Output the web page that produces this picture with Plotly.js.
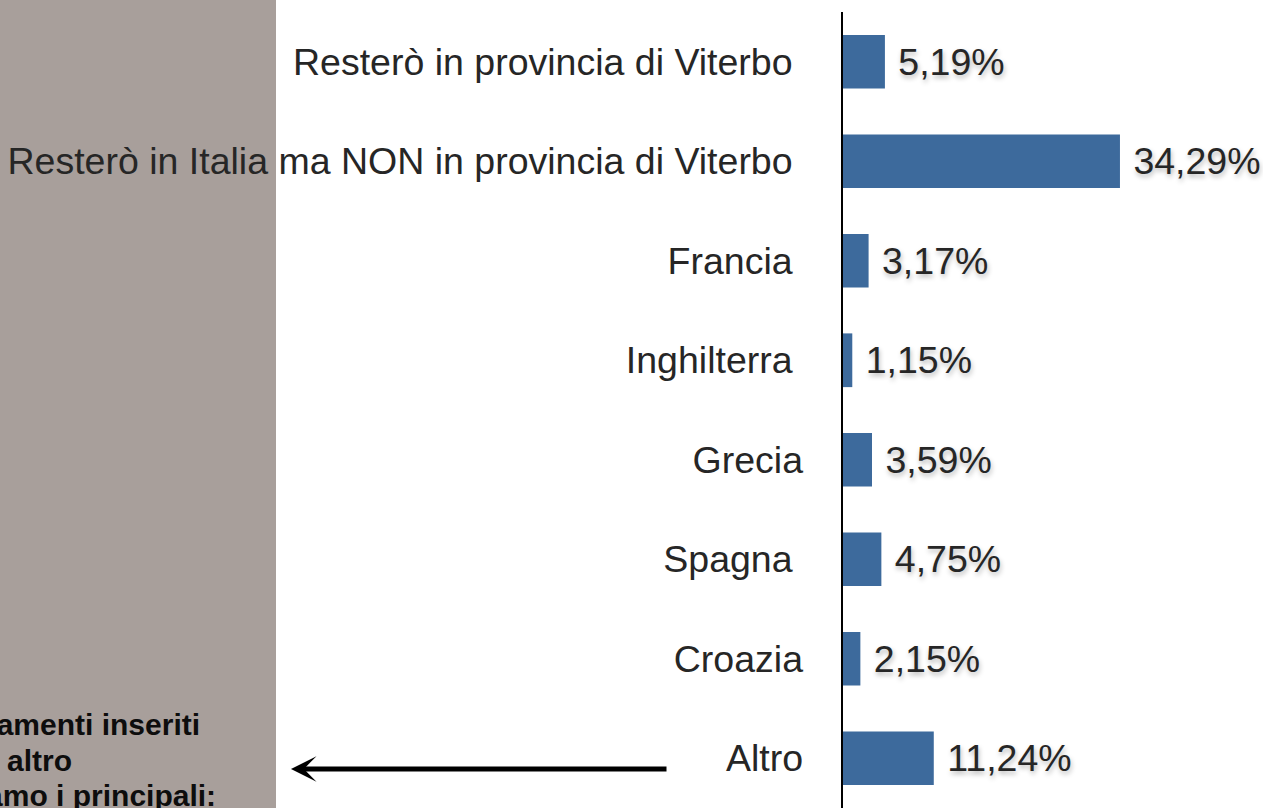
<!DOCTYPE html>
<html>
<head>
<meta charset="utf-8">
<script src="https://cdn.plot.ly/plotly-3.0.1.min.js"></script>
<style>html,body{margin:0;padding:0;background:#fff;}#chart{width:1263px;height:808px;}</style>
</head>
<body>
<div id="chart"></div>
<script>
// Categories (trailing non-breaking spaces reproduce the original label spacing)
const categories = [
  "Resterò in provincia di Viterbo\u00a0",
  "Resterò in Italia ma NON in provincia di Viterbo\u00a0",
  "Francia\u00a0",
  "Inghilterra\u00a0",
  "Grecia",
  "Spagna\u00a0",
  "Croazia",
  "Altro"
];
const percentages = [5.19, 34.29, 3.17, 1.15, 3.59, 4.75, 2.15, 11.24];
const noteLines = ["Gli orientamenti inseriti", "in altro", "vediamo i principali:"];

const W = 1263, H = 808, L = 843, T = 12, B = 0, R = 0;
const pw = W - L - R, ph = H - T - B;
const px = x => (x - L) / pw;
const py = y => 1 - (y - T) / ph;

const trace = {
  type: "bar",
  orientation: "h",
  y: categories,
  x: percentages,
  marker: {color: "#3d6a9c"},
  texttemplate: "\u00a0%{x:.2f}%",
  textposition: "outside",
  cliponaxis: false,
  textfont: {family: "Liberation Sans, Arial, sans-serif", size: 37.5, color: "#262626",
             shadow: "1px 3px 5px rgba(0,0,0,0.28)"},
  hoverinfo: "skip"
};

const noteFont = {family: "Liberation Sans, Arial, sans-serif", size: 30, color: "#0d0d0d", weight: "bold"};
const annotations = [
  {xref: "paper", yref: "paper", x: px(202), y: py(724), xanchor: "right", yanchor: "middle",
   text: "<b>" + noteLines[0] + "</b>", showarrow: false, font: noteFont},
  {xref: "paper", yref: "paper", x: px(74), y: py(760), xanchor: "right", yanchor: "middle",
   text: "<b>" + noteLines[1] + "</b>", showarrow: false, font: noteFont},
  {xref: "paper", yref: "paper", x: px(218), y: py(795), xanchor: "right", yanchor: "middle",
   text: "<b>" + noteLines[2] + "</b>", showarrow: false, font: noteFont},
  {xref: "paper", yref: "paper", x: px(291), y: py(769), axref: "pixel", ayref: "pixel",
   ax: 377, ay: 0, text: "", showarrow: true, arrowhead: 3, arrowsize: 0.85,
   arrowwidth: 5, arrowcolor: "#000", standoff: 0, startstandoff: 0}
];

const layout = {
  width: W, height: H,
  margin: {l: L, r: R, t: T, b: B, pad: 0},
  paper_bgcolor: "#ffffff",
  plot_bgcolor: "rgba(0,0,0,0)",
  separators: ",.",
  showlegend: false,
  bargap: 0.46,
  xaxis: {range: [0, 52], visible: false, fixedrange: true},
  yaxis: {
    type: "category",
    categoryorder: "array",
    categoryarray: categories,
    autorange: "reversed",
    showline: true, linecolor: "#000", linewidth: 2.5,
    showgrid: false, zeroline: false,
    ticks: "", ticklabelstandoff: 30,
    tickfont: {family: "Liberation Sans, Arial, sans-serif", size: 37.5, color: "#262626"},
    fixedrange: true
  },
  shapes: [
    {type: "rect", xref: "paper", yref: "paper", x0: px(0), x1: px(276), y0: py(H), y1: py(0),
     fillcolor: "#a89f9b", line: {width: 0}, layer: "below"}
  ],
  annotations: annotations
};

Plotly.newPlot("chart", [trace], layout, {displayModeBar: false, staticPlot: true});
</script>
</body>
</html>
